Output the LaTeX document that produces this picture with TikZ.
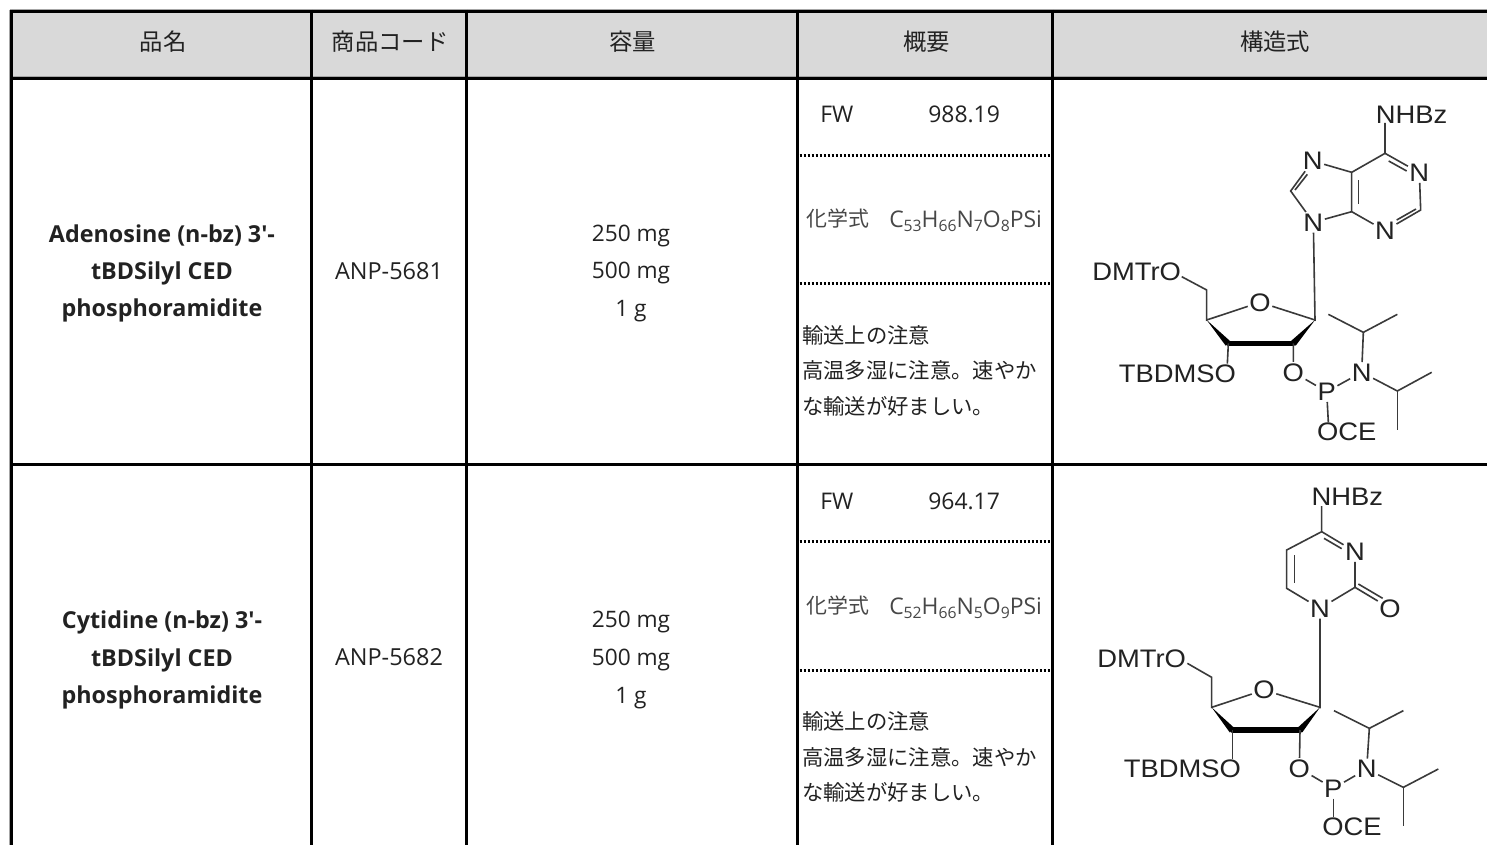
\documentclass[tikz,border=0pt]{standalone}
\usepackage{fontspec}
\setmainfont{Open Sans}
\newfontfamily\jp{Noto Sans CJK JP}
\newfontfamily\arial[FakeStretch=1.08]{Liberation Sans}
\newcommand{\sbs}[1]{\raisebox{-0.35ex}{\fontsize{11.8pt}{12pt}\selectfont #1}}
\definecolor{hdr}{HTML}{D9D9D9}
\definecolor{ink}{HTML}{222222}
\definecolor{bond}{HTML}{3A3A3A}
\definecolor{edge}{HTML}{A6A6A6}
\tikzset{
  grid line/.style={line width=2.3pt,black},
  edge line/.style={line width=0.75pt,edge},
  dot line/.style={line width=2pt,black,dash pattern=on 2.1pt off 0.9pt},
  head/.style={font=\jp\fontsize{17.5pt}{20pt}\selectfont,text=ink,inner sep=0pt},
  body/.style={font=\fontsize{17pt}{28.2pt}\selectfont,text=ink,align=center,inner sep=0pt},
  code/.style={font=\fontsize{17.6pt}{28.2pt}\selectfont,text=ink,inner sep=0pt},
  bname/.style={font=\bfseries\fontsize{17.5pt}{28pt}\selectfont,text=ink,align=center,inner sep=0pt},
  jnote/.style={font=\jp\fontsize{16pt}{26.6pt}\selectfont,text=ink,align=left,anchor=west,inner sep=0pt},
  form/.style={font=\fontsize{17.2pt}{18pt}\selectfont,text=black!72,inner sep=0pt,anchor=west},
  jform/.style={font=\jp\fontsize{15.7pt}{18pt}\selectfont,text=black!72,inner sep=0pt,anchor=west},
  fw/.style={font=\fontsize{17.2pt}{18pt}\selectfont,text=ink,inner sep=0pt,anchor=west},
  atom/.style={font=\arial\fontsize{19pt}{22pt}\selectfont,text=ink,inner sep=1pt},
  gp/.style={font=\arial\fontsize{19pt}{22pt}\selectfont,text=ink,inner sep=0pt},
  bd/.style={line width=1.2pt,bond},
  bold bond/.style={line width=4pt,black,line cap=round},
}
\begin{document}
\begin{tikzpicture}[x=0.75pt,y=-0.75pt]
\useasboundingbox (0,0) rectangle (1487,845);
\fill[white] (0,0) rectangle (1487,845);
\fill[hdr] (11,11) rectangle (1487,77);
% hairline edges
\draw[edge line] (10,9.6) -- (1487,9.6);
\draw[edge line] (12,76.5) -- (1487,76.5);
\draw[edge line] (9.7,10) -- (9.7,845);
% grid
\draw[grid line] (10,11.4) -- (1487,11.4);
\draw[grid line] (10,78.5) -- (1487,78.5);
\draw[grid line] (10,464.3) -- (1487,464.3);
\foreach \x in {11.4,311.7,466.7,797.2,1052.3} \draw[grid line] (\x,10) -- (\x,845);
\foreach \y in {155.3,283.3,541.3,670.3} \draw[dot line] (799.5,\y) -- (1050.5,\y);
% header
\node[head] (h1) at (163,42) {品名};
\node[head] (h2) at (390,42) {商品コード};
\node[head] (h3) at (632.5,42) {容量};
\node[head] (h4) at (926.5,42) {概要};
\node[head] (h5) at (1275,42) {構造式};
% row 1
\node[bname] (n1) at (162,273.5) {Adenosine (n-bz) 3\textquotesingle-\\tBDSilyl CED\\phosphoramidite};
\node[code] (c1) at (389,271) {ANP-5681};
\node[body] (q1) at (631,273.5) {250 mg\\500 mg\\1 g};
\node[fw] (fa1) at (820,114) {FW};
\node[fw] (fb1) at (928,114) {988.19};
\node[jform] (ka1) at (806,219) {化学式};
\node[form] (kb1) at (889,221) {C\sbs{53}H\sbs{66}N\sbs{7}O\sbs{8}PSi};
\node[jnote] (t1) at (802,370.5) {輸送上の注意\\高温多湿に注意。速やか\\な輸送が好ましい。};
% row 2
\node[bname] (n2) at (162,660) {Cytidine (n-bz) 3\textquotesingle-\\tBDSilyl CED\\phosphoramidite};
\node[code] (c2) at (389,657) {ANP-5682};
\node[body] (q2) at (631,660) {250 mg\\500 mg\\1 g};
\node[fw] (fa2) at (820,501) {FW};
\node[fw] (fb2) at (928,501) {964.17};
\node[jform] (ka2) at (806,606) {化学式};
\node[form] (kb2) at (889,608) {C\sbs{52}H\sbs{66}N\sbs{5}O\sbs{9}PSi};
\node[jnote] (t2) at (802,757) {輸送上の注意\\高温多湿に注意。速やか\\な輸送が好ましい。};
% molecule 1 (adenine)
\begin{scope}[shift={(1060,85)},x=0.25pt,y=-0.25pt,name prefix=a-]
  \node[gp] (nhbz) at (1055,88) {NHBz};
  \coordinate (nh) at (975,114);
  \coordinate (C6) at (975,205);
  \node[atom] (N1) at (1078,263) {N};
  \coordinate (C2) at (1082,375);
  \node[atom] (N3) at (975,437) {N};
  \coordinate (C4) at (875,380);
  \coordinate (C5) at (875,262);
  \node[atom] (N7) at (758,228) {N};
  \coordinate (C8) at (692,318);
  \node[atom] (N9) at (760,412) {N};
  \coordinate (C1p) at (765,705);
  \node[atom] (O4p) at (600,652) {O};
  \coordinate (C4p) at (440,705);
  \coordinate (C3p) at (505,775);
  \coordinate (C2p) at (700,775);
  \coordinate (C5p) at (440,615);
  \node[gp] (dmt) at (230,560) {DMTrO};
  \coordinate (O5p) at (365,575);
  \node[gp] (tbd) at (352,865) {TBDMSO};
  \coordinate (O3p) at (502,836);
  \node[atom] (O2p) at (700,862) {O};
  \node[atom] (P) at (800,920) {P};
  \node[atom] (Nam) at (905,862) {N};
  \node[gp] (oce) at (860,1040) {OCE};
  \coordinate (Oc) at (805,1012);
  \coordinate (ip1) at (910,742);
  \coordinate (ip1a) at (805,688);
  \coordinate (ip1b) at (1012,688);
  \coordinate (ip2) at (1012,918);
  \coordinate (ip2a) at (1115,862);
  \coordinate (ip2b) at (1012,1035);
  \draw[bd] (nh) -- (C6) -- (N1) -- (C2) -- (N3) -- (C4) -- (C5) -- (C6);
  \draw[bd] (C5) -- (N7) -- (C8) -- (N9) -- (C4);
  \draw[bd] (N9) -- (C1p) -- (O4p) -- (C4p) -- (C5p) -- (O5p);
  \draw[bd] (986,228) -- (1040,258);
  \draw[bd] (1068,372) -- (1010,405);
  \draw[bd] (896,285) -- (896,358);
  \draw[bd] (705,315) -- (742,268);
  \fill[black] (C4p) -- (497,782) -- (510,768) -- cycle;
  \fill[black] (C1p) -- (693,768) -- (707,782) -- cycle;
  \draw[bold bond] (C3p) -- (C2p);
  \draw[bd] (C3p) -- (O3p);
  \draw[bd] (C2p) -- (O2p) -- (P) -- (Nam) -- (ip1);
  \draw[bd] (P) -- (Oc);
  \draw[bd] (ip1a) -- (ip1) -- (ip1b);
  \draw[bd] (Nam) -- (ip2) -- (ip2a);
  \draw[bd] (ip2) -- (ip2b);
\end{scope}
% molecule 2 (cytosine)
\begin{scope}[shift={(1060,470)},x=0.25pt,y=-0.25pt,name prefix=b-]
  \node[gp] (nhbz) at (862,80) {NHBz};
  \coordinate (nh) at (785,108);
  \coordinate (C4) at (785,185);
  \node[atom] (N3) at (885,245) {N};
  \coordinate (C2) at (885,352);
  \node[atom] (O2) at (990,415) {O};
  \node[atom] (N1) at (780,415) {N};
  \coordinate (C6) at (680,355);
  \coordinate (C5) at (680,240);
  \coordinate (C1p) at (780,712);
  \node[atom] (O4p) at (612,660) {O};
  \coordinate (C4p) at (455,712);
  \coordinate (C3p) at (517,780);
  \coordinate (C2p) at (720,780);
  \coordinate (C5p) at (455,622);
  \node[gp] (dmt) at (245,567) {DMTrO};
  \coordinate (O5p) at (382,580);
  \node[gp] (tbd) at (367,895) {TBDMSO};
  \coordinate (O3p) at (517,866);
  \node[atom] (O2p) at (718,895) {O};
  \node[atom] (P) at (820,955) {P};
  \node[atom] (Nam) at (920,897) {N};
  \node[gp] (oce) at (876,1070) {OCE};
  \coordinate (Oc) at (820,1042);
  \coordinate (ip1) at (928,775);
  \coordinate (ip1a) at (822,722);
  \coordinate (ip1b) at (1030,722);
  \coordinate (ip2) at (1030,952);
  \coordinate (ip2a) at (1135,897);
  \coordinate (ip2b) at (1030,1068);
  \draw[bd] (nh) -- (C4) -- (N3) -- (C2) -- (N1) -- (C6) -- (C5) -- (C4);
  \draw[bd] (C2) -- (O2);
  \draw[bd] (895,342) -- (968,385);
  \draw[bd] (792,205) -- (845,236);
  \draw[bd] (703,255) -- (703,340);
  \draw[bd] (N1) -- (C1p) -- (O4p) -- (C4p) -- (C5p) -- (O5p);
  \fill[black] (C4p) -- (509,787) -- (522,773) -- cycle;
  \fill[black] (C1p) -- (713,773) -- (727,787) -- cycle;
  \draw[bold bond] (C3p) -- (C2p);
  \draw[bd] (C3p) -- (O3p);
  \draw[bd] (C2p) -- (O2p) -- (P) -- (Nam) -- (ip1);
  \draw[bd] (P) -- (Oc);
  \draw[bd] (ip1a) -- (ip1) -- (ip1b);
  \draw[bd] (Nam) -- (ip2) -- (ip2a);
  \draw[bd] (ip2) -- (ip2b);
\end{scope}
\end{tikzpicture}
\end{document}
